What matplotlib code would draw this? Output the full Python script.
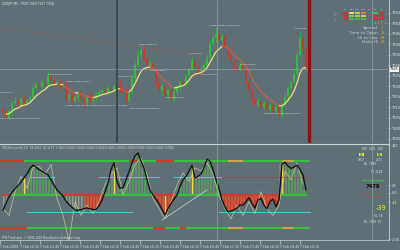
import matplotlib
matplotlib.use('Agg')
import matplotlib.pyplot as plt
from matplotlib.collections import LineCollection
from matplotlib.patches import Rectangle
import pandas as pd

# ---- price bars (M5) ----
closes = [7907, 7905, 7908, 7912, 7913, 7911, 7914, 7912, 7913, 7915,
          7919, 7921, 7920, 7922, 7921, 7925, 7923, 7921, 7922, 7920,
          7921, 7914, 7916, 7913, 7915, 7917, 7914, 7912, 7915, 7913,
          7914, 7916, 7917, 7918, 7917, 7919, 7918, 7920, 7922, 7919,
          7917, 7913, 7917, 7924, 7930, 7935, 7937, 7933, 7930, 7931,
          7927, 7922, 7918, 7920, 7916, 7918, 7914, 7917, 7920, 7922,
          7921, 7925, 7928, 7932, 7929, 7927, 7928, 7930, 7934, 7940,
          7943, 7945, 7942, 7944, 7938, 7935, 7932, 7929, 7928, 7930,
          7927, 7922, 7918, 7914, 7911, 7913, 7910, 7912, 7909, 7911,
          7908, 7910, 7906, 7911, 7915, 7919, 7922, 7926, 7935, 7943,
          7937, 7929]
first_open = 7909
up_wick = [1, 2, 1, 1, 2, 1, 1, 2, 1, 1, 2, 1, 2, 1, 1, 2, 3, 1, 2, 1,
           1, 2, 1, 2, 1, 1, 2, 1, 1, 2, 1, 1, 2, 1, 1, 2, 1, 1, 2, 1,
           1, 2, 1, 2, 2, 2, 3, 2, 1, 2, 1, 2, 1, 1, 2, 1, 1, 2, 1, 1,
           2, 1, 1, 2, 1, 1, 2, 1, 1, 2, 2, 3, 2, 1, 2, 1, 2, 1, 1, 2,
           1, 1, 2, 1, 1, 2, 1, 1, 2, 1, 1, 2, 1, 1, 2, 1, 1, 2, 2, 3,
           2, 1]
low_wick = [2, 1, 1, 2, 1, 1, 2, 1, 1, 1, 1, 1, 2, 1, 1, 1, 2, 1, 1, 2,
            1, 1, 2, 1, 1, 2, 1, 2, 1, 1, 2, 1, 1, 1, 2, 1, 1, 1, 1, 2,
            2, 1, 2, 1, 1, 1, 2, 1, 2, 1, 1, 2, 1, 2, 1, 2, 1, 1, 1, 2,
            1, 1, 2, 1, 1, 2, 1, 1, 1, 1, 1, 2, 1, 1, 2, 1, 1, 2, 1, 1,
            2, 1, 1, 2, 1, 1, 2, 1, 1, 2, 1, 1, 3, 1, 1, 2, 1, 1, 1, 1,
            2, 1]
bid = 7928.2

# dotted high/low levels: (price, first bar, last bar)
levels = [(7905, -1, 12), (7917, -1, 3), (7926, 15, 23), (7922.5, 21, 29),
          (7911, 21, 41), (7925, 38, 43), (7940, 45, 51), (7927.7, 49, 54),
          (7909.6, 42, 52), (7914.8, 54, 60), (7936, 62, 66), (7949, 69, 79),
          (7930.5, 79, 84), (7926, 66, 71), (7907, 87, 99), (7947.7, 97, 101)]
price_ticks = [7955, 7950, 7945, 7940, 7935, 7930, 7925, 7920, 7915, 7910,
               7905, 7900, 7895]

# ---- oscillator window ----
osc = [-45, -25, -5, 8, 18, 28, 38, 50, 62, 78,
       88, 82, 75, 70, 64, 59, 45, 30, 15, 6,
       -3, -18, -28, -36, -44, -45, -43, -40, -38, -40,
       -43, -42, -32, -15, 9, 35, 75, 95, 40, 20,
       22, 45, 68, 95, 115, 124, 100, 80, 45, 15,
       0, -12, -25, -42, -59, -40, -25, -12, 0, 25,
       44, 55, 70, 88, 50, 55, 62, 80, 105, 100,
       74, 45, 20, -15, -35, -50, -47, -44, -38, -29,
       -30, -20, -8, -25, -38, -15, -10, -30, -40, -20,
       -12, -35, -15, 90, 97, 85, 78, 82, 88, 75,
       59, 15]
sig_bars = list(range(0, 101, 2))
sig = [-40, -60, 10, 55, 20, 80, 85, 60, 90, -10, -60, -135, -20, -60, -30,
       -55, -20, 30, 60, 80, 0, 40, 90, 110, 60, -10, -40, -70, -20, 30,
       65, 40, 80, 70, 95, 60, 0, -40, -70, -30, -60, -20, -55, 10, -40,
       -60, -30, 70, 45, 95, 30]
red_zones = [(27, 33), (51, 57), (73, 92)]
yellow_bars = [7, 37, 54, 63, 93]
top_band = [(-1, 7, 'r'), (7, 42, 'g'), (42, 45, 'r'), (45, 51, 'g'), (51, 57, 'r'),
            (57, 75, 'g'), (75, 80, 'y'), (80, 93, 'g'), (93, 97, 'y'), (97, 102.3, 'g')]
bottom_band = [(-1, 8, 'r'), (8, 50, 'g'), (50, 54, 'r'), (54, 59, 'g'), (59, 61, 'r'),
               (61, 75, 'g'), (75, 80, 'y'), (80, 93, 'g'), (93, 97, 'y'), (97, 102.3, 'g')]
cyan_hi = [(9, 17), (32, 52), (57, 73)]
cyan_lo = [(8, 43), (72, 102.3)]
osc_ticks = [147, 29, 6, -21, -130]
osc_tick_labels = ['147', '29', '6.0', '-21', '-130']

time_labels = ['7 Feb 2008', '7 Feb 12:15', '7 Feb 12:45', '7 Feb 13:15',
               '7 Feb 13:45', '7 Feb 14:15', '7 Feb 14:45', '7 Feb 15:15',
               '7 Feb 15:45', '7 Feb 16:15', '7 Feb 16:45', '7 Feb 17:15',
               '7 Feb 17:45', '7 Feb 18:15', '7 Feb 18:45', '7 Feb 19:15']

# dashboard in the corner
tf_names = ['M15', 'H1', 'H4']
tf_cols = ['M1', 'M5', 'M15', 'M30', 'H1', 'H4', 'D1']
tf_cells = [['#d03030', '#e0e060', '#c0d040', '#e07060', None, '#40c040', '#d03030'],
            ['#d03030', '#70d060', '#a0d040', '#d0d050', None, '#d03030', '#d03030'],
            ['#d03030', '#40c040', '#40c040', '#40c040', None, '#d03030', '#d03030']]
info_names = ['Spread', 'Time to Open', 'Hi to Low', 'Daily Hi']
info_vals = ['2', '12', '44', '86']

BG = '#5e7075'
LIGHT = '#dfe6e8'
GREEN = '#2fbf3a'
RED = '#c83a2a'
BAND = {'g': '#34c23c', 'r': '#c8402c', 'y': '#c8a848'}

plt.rcParams['font.family'] = 'DejaVu Sans'
fig = plt.figure(figsize=(4, 2.5), dpi=100, facecolor=BG)


def frac(x0, y0, x1, y1):
    return [x0 / 400, 1 - y1 / 250, (x1 - x0) / 400, (y1 - y0) / 250]


ax1 = fig.add_axes(frac(0, 0, 388, 143))
ax2 = fig.add_axes(frac(0, 145, 388, 240))
for ax in (ax1, ax2):
    ax.set_facecolor(BG)
    for s in ax.spines.values():
        s.set_visible(False)
    ax.set_xlim(-1, 388 / 3 - 1)
    ax.yaxis.tick_right()
    ax.tick_params(axis='y', labelsize=2.6, colors=LIGHT, length=1.5, width=0.4, pad=1)

# ---- price window ----
n = len(closes)
bars = list(range(n))
opens = [first_open] + closes[:-1]
for i in bars:
    o, c = opens[i], closes[i]
    col = GREEN if c >= o else RED
    hi = max(o, c) + up_wick[i]
    lo = min(o, c) - low_wick[i]
    ax1.vlines(i, lo, hi, color=col, lw=0.5)
    h = abs(c - o) if c != o else 0.4
    ax1.bar(i, h, bottom=min(o, c), width=0.65, color=col, linewidth=0)

ma = pd.Series(closes).ewm(span=8, adjust=False).mean().tolist()
segs, cols = [], []
for i in range(1, n):
    segs.append([(i - 1, ma[i - 1]), (i, ma[i])])
    cols.append('#f2e27a' if closes[i] >= ma[i] else '#d65a4a')
ax1.add_collection(LineCollection(segs, colors=cols, linewidths=0.9))

for p, b0, b1 in levels:
    ax1.plot([b0, b1], [p, p], color='#e0e6e8', lw=0.5, ls=(0, (1, 1.3)))
ax1.plot([-1, 66], [7947.7, 7934.8], color='#c05050', lw=0.5, alpha=0.5)
ax1.axhline(bid, color='#93a3a8', lw=0.5)
ax1.axvline(38, color='#34464c', lw=1.3)
ax1.axvline(102, color='#8e1212', lw=2.4)
ax1.set_ylim(7961 - 143 / 2.1, 7961)
ax1.set_yticks(price_ticks)
ax1.set_xticks([])

# ---- oscillator window ----
for i in bars:
    v = osc[i]
    in_red = any(a <= i <= b for a, b in red_zones)
    if v > 0:
        ax2.vlines(i, 0, v, color='#1f9e2c', lw=0.6)
    elif not in_red:
        ax2.vlines(i, v, 0, color='#a8b098', lw=0.4)
    if i < n - 1:
        ax2.vlines(i + 0.5, 0, min(v, osc[i + 1]) if v > 0 else max(v, osc[i + 1]),
                   color='#b9c48e', lw=0.35)
for a, b in red_zones:
    xs = bars[a:b + 1]
    ys = osc[a:b + 1]
    ax2.fill_between(xs, ys, 0, where=[y < 0 for y in ys], interpolate=True,
                     color='#c8392a', linewidth=0)
for b in yellow_bars:
    ax2.vlines(b, 0, osc[b], color='#f0e040', lw=1.0)

for band, lev in ((top_band, 100), (bottom_band, -98)):
    for b0, b1, c in band:
        ax2.plot([b0, b1], [lev, lev], color=BAND[c], lw=1.5, solid_capstyle='butt')
mid = []
mid_cols = []
for i in bars:
    mid.append([(i - 0.5, 0), (i + 0.5, 0)])
    mid_cols.append(BAND['g'] if osc[i] >= 0 else BAND['r'])
ax2.add_collection(LineCollection(mid, colors=mid_cols, linewidths=1.5))
for b0, b1 in cyan_hi:
    ax2.plot([b0, b1], [53, 53], color='#45d2da', lw=0.7)
ax2.plot([73, 102.3], [53, 53], color='#8a5048', lw=0.6)
for b0, b1 in cyan_lo:
    ax2.plot([b0, b1], [-50, -50], color='#45d2da', lw=0.7)
ax2.plot([53, 68], [-74, 15], color='#d8dcd8', lw=0.5)

ax2.plot(sig_bars, sig, color='#c9c79a', lw=0.5)
ax2.plot(bars, osc, color='#0c0c0c', lw=0.9)

ax2.set_ylim((195 - 240) / 0.34, (195 - 145) / 0.34)
ax2.set_yticks(osc_ticks)
ax2.set_yticklabels(osc_tick_labels)
ax2.set_xticks([k * 20 / 3 - 1 for k in range(len(time_labels))])
ax2.set_xticklabels(time_labels)
ax2.tick_params(axis='x', labelsize=2.3, colors=LIGHT, length=3, width=0.4,
                pad=0.5, direction='out')
for t in ax2.get_xticklabels():
    t.set_horizontalalignment('left')

for ax in (ax1, ax2):
    ax.axvline(217 / 3 - 1, color='#93a4a9', lw=0.5)
    ax.axvline(123, color='#93a4a9', lw=0.5)

# ---- overlay: frame lines, labels, dashboard ----
ov = fig.add_axes([0, 0, 1, 1])
ov.set_xlim(0, 400)
ov.set_ylim(250, 0)
ov.axis('off')
ov.patch.set_alpha(0)
ov.plot([0, 388], [143.5, 143.5], color='#cdd5d7', lw=0.8)
ov.plot([388.5, 388.5], [0, 240], color='#cdd5d7', lw=0.6)
ov.plot([0, 388.5], [240, 240], color='#cdd5d7', lw=0.5)

ov.text(2, 3.5, 'USDJPY,M5  7929 7930 7927 7928', fontsize=2.2, color=LIGHT, va='center')
ov.text(2, 148, 'DSS Bressert(8,13)  58.2014  42.1177  1.0000 0.0000 0.0000 0.0000 '
        '0.0000 0.0000 1.0000 0.0000 0.0000 0.0000 0.0000 0.0000',
        fontsize=2.0, color='#cfd6d8', va='center')
ov.text(2, 237.5, 'FFB-T Indicator  © 2004-2008 MetaQuotes Software Corp.',
        fontsize=2.0, color=LIGHT, va='center')

# price label of the bid
ov.add_patch(Rectangle((389, 66.5), 10, 5, color='#f4f6f6', lw=0))
ov.text(394, 69, '7928', fontsize=2.4, color='#202020', ha='center', va='center')

# timeframe table
for j, name in enumerate(tf_cols):
    ov.text(345 + j * 6, 9.5, name, fontsize=1.6, color=LIGHT, ha='center', va='center')
for r, row in enumerate(tf_cells):
    ov.text(334, 13 + r * 3, tf_names[r], fontsize=1.6, color='#b0c0e0', va='center')
    for j, c in enumerate(row):
        if c:
            ov.add_patch(Rectangle((342.5 + j * 6, 11.7 + r * 3), 5.5, 2.6, color=c, lw=0))
ov.text(380, 22.5, '↓↓↑↓', fontsize=3, color='#e0a040', ha='center', va='center')
for k, (nm, v) in enumerate(zip(info_names, info_vals)):
    ov.text(378, 28 + k * 4.8, nm, fontsize=3.1, color='#c6ced6', ha='right', va='center')
    ov.text(381, 28 + k * 4.8, v, fontsize=2.6, color='#e0a040', va='center')

# levels read-out on the oscillator window
ov.text(372, 148.5, '800  7471  188', fontsize=2.0, color=LIGHT, ha='center', va='center')
ov.add_patch(Rectangle((356, 153.5), 2, 2.5, color='#4060d0', lw=0))
ov.add_patch(Rectangle((359, 153.3), 5, 3, color='#e8f040', lw=0))
ov.text(361.5, 154.8, '18', fontsize=2.0, color='#303030', ha='center', va='center')
ov.add_patch(Rectangle((377, 153.3), 5, 3, color='#b8e040', lw=0))
ov.text(379.5, 154.8, '18', fontsize=2.0, color='#303030', ha='center', va='center')
ov.text(361, 160, '8657', fontsize=2.0, color=LIGHT, ha='center', va='center')
ov.text(379, 160, '7475', fontsize=2.0, color=LIGHT, ha='center', va='center')
ov.text(370, 164, 'BL  7883', fontsize=2.0, color=LIGHT, ha='center', va='center')
ov.text(377, 172, 'TI  1128', fontsize=2.0, color=LIGHT, ha='center', va='center')
ov.plot([362, 384], [180, 180], color='#40d040', lw=0.8, ls=(0, (1.5, 0.8)))
ov.text(373, 186.5, '7479', fontsize=3.8, color='#0a0a0a', ha='center', va='center',
        fontweight='bold')
ov.plot([362, 384], [193, 193], color='#d04040', lw=0.8, ls=(0, (1.5, 0.8)))
ov.text(381, 208, '-39', fontsize=4.8, color='#e8f040', ha='center', va='center')
ov.text(378, 216, 'SL  18', fontsize=2.0, color=LIGHT, ha='center', va='center')
ov.text(373, 222, 'BL  7858  ET', fontsize=2.0, color=LIGHT, ha='center', va='center')

fig.savefig('out.png', dpi=100, facecolor=BG)
